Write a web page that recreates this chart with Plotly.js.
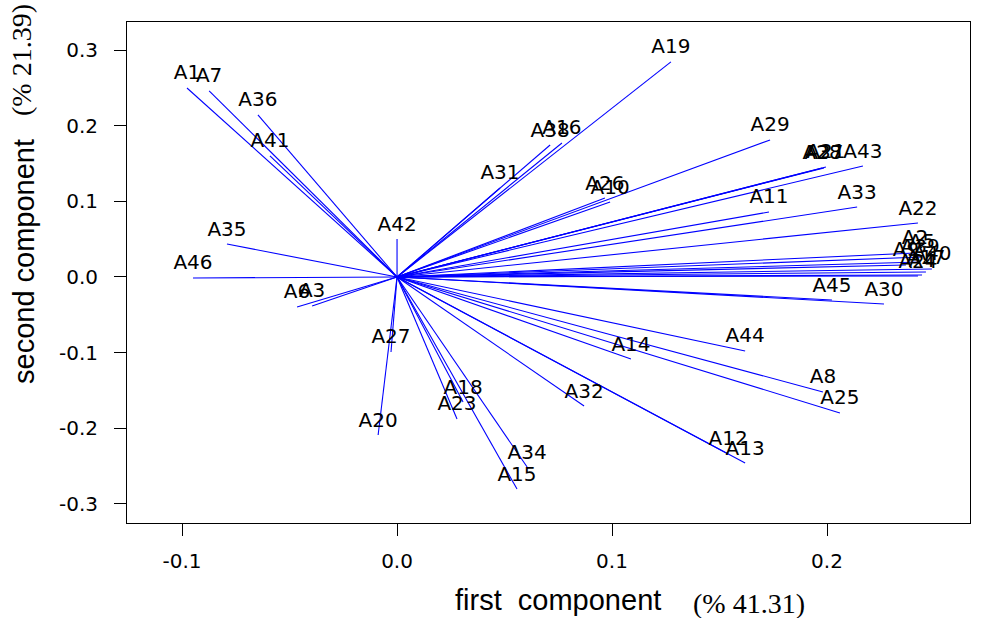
<!DOCTYPE html>
<html>
<head>
<meta charset="utf-8">
<script src="https://cdn.plot.ly/plotly-3.0.1.min.js"></script>
<style>html,body{margin:0;padding:0;background:#fff;}#chart{width:990px;height:618px;}</style>
</head>
<body>
<div id="chart"></div>
<script>
const labels = ["A1","A2","A3","A4","A5","A6","A7","A8","A9","A10",
  "A11","A12","A13","A14","A15","A16","A17","A18","A19","A20",
  "A21","A22","A23","A24","A25","A26","A27","A28","A29","A30",
  "A31","A32","A33","A34","A35","A36","A37","A38","A39","A40",
  "A41","A42","A43","A44","A45","A46"];
const pc1 = [-0.0977, 0.2409, -0.0395, 0.2442, 0.2442, -0.0465, -0.0874, 0.1981, 0.2367, 0.0991,
  0.1730, 0.1540, 0.1619, 0.1088, 0.0558, 0.0767, 0.2460, 0.0307, 0.1274, -0.0088,
  0.1995, 0.2423, 0.0279, 0.2423, 0.2060, 0.0967, -0.0028, 0.1977, 0.1735, 0.2265,
  0.0479, 0.0870, 0.2140, 0.0605, -0.0791, -0.0647, 0.1986, 0.0712, 0.2433, 0.2488,
  -0.0591, 0.0000, 0.2167, 0.1619, 0.2023, -0.0949];
const pc2 = [0.2503, 0.0318, -0.0384, 0.0026, 0.0265, -0.0397, 0.2464, -0.1523, 0.0159, 0.0993,
  0.0861, -0.2344, -0.2464, -0.1086, -0.2808, 0.1775, 0.0066, -0.1656, 0.2848, -0.2093,
  0.1457, 0.0715, -0.1880, 0.0013, -0.1800, 0.1046, -0.0993, 0.1444, 0.1815, -0.0358,
  0.1179, -0.1709, 0.0927, -0.2517, 0.0437, 0.2146, 0.1444, 0.1748, 0.0199, 0.0106,
  0.1603, 0.0503, 0.1470, -0.0980, -0.0305, -0.0013];
const xTicks = [-0.1, 0.0, 0.1, 0.2];
const xTickText = ["-0.1", "0.0", "0.1", "0.2"];
const yTicks = [-0.3, -0.2, -0.1, 0.0, 0.1, 0.2, 0.3];
const yTickText = ["-0.3", "-0.2", "-0.1", "0.0", "0.1", "0.2", "0.3"];
const xTitle = "first  component";
const xTitlePct = "(% 41.31)";
const yTitle = "second component";
const yTitlePct = "(% 21.39)";

// segments from origin to each loading
const segX = [], segY = [];
for (let i = 0; i < labels.length; i++) {
  segX.push(0, pc1[i], null);
  segY.push(0, pc2[i], null);
}

const L = 127, R = 970, T = 22, B = 523;
const W = 990, H = 618;

const data = [
  {type: "scatter", mode: "lines", x: segX, y: segY,
   line: {color: "#0000FF", width: 1.1}, hoverinfo: "skip", showlegend: false},
  {type: "scatter", mode: "markers+text", x: pc1, y: pc2, text: labels,
   marker: {size: 4, opacity: 0}, textposition: "top center", cliponaxis: false,
   textfont: {family: "DejaVu Sans, Arial, sans-serif", size: 20, color: "#000"},
   showlegend: false}
];

const axisCommon = {
  showgrid: false, zeroline: false, showline: true, mirror: true,
  linecolor: "#000", linewidth: 1, ticks: "outside", ticklen: 12, tickwidth: 1,
  tickcolor: "#000", tickmode: "array",
  tickfont: {family: "DejaVu Sans, Arial, sans-serif", size: 20, color: "#000"}
};

function ann(text, px, py, family, size, angle) {
  return {text: text, xref: "paper", yref: "paper", x: 0, y: 0,
    xshift: px - L, yshift: B - py, xanchor: "center", yanchor: "middle",
    showarrow: false, textangle: angle || 0,
    font: {family: family, size: size, color: "#000"}};
}

const layout = {
  width: W, height: H,
  margin: {l: L, r: W - R, t: T, b: H - B, pad: 0},
  paper_bgcolor: "#fff", plot_bgcolor: "#fff",
  xaxis: Object.assign({}, axisCommon, {
    range: [-0.1256, 0.2665], tickvals: xTicks, ticktext: xTickText,
    ticklabelstandoff: 8
  }),
  yaxis: Object.assign({}, axisCommon, {
    range: [-0.3258, 0.3377], tickvals: yTicks, ticktext: yTickText,
    ticklabelstandoff: 12
  }),
  annotations: [
    ann(xTitle, 558, 600, "Liberation Sans, Arial, sans-serif", 29),
    ann(xTitlePct, 749, 603, "Liberation Serif, Times New Roman, serif", 28),
    ann(yTitle, 24, 262, "Liberation Sans, Arial, sans-serif", 29, -90),
    ann(yTitlePct, 21, 60, "Liberation Serif, Times New Roman, serif", 28, -90)
  ]
};

Plotly.newPlot("chart", data, layout, {staticPlot: true, displayModeBar: false});
</script>
</body>
</html>
